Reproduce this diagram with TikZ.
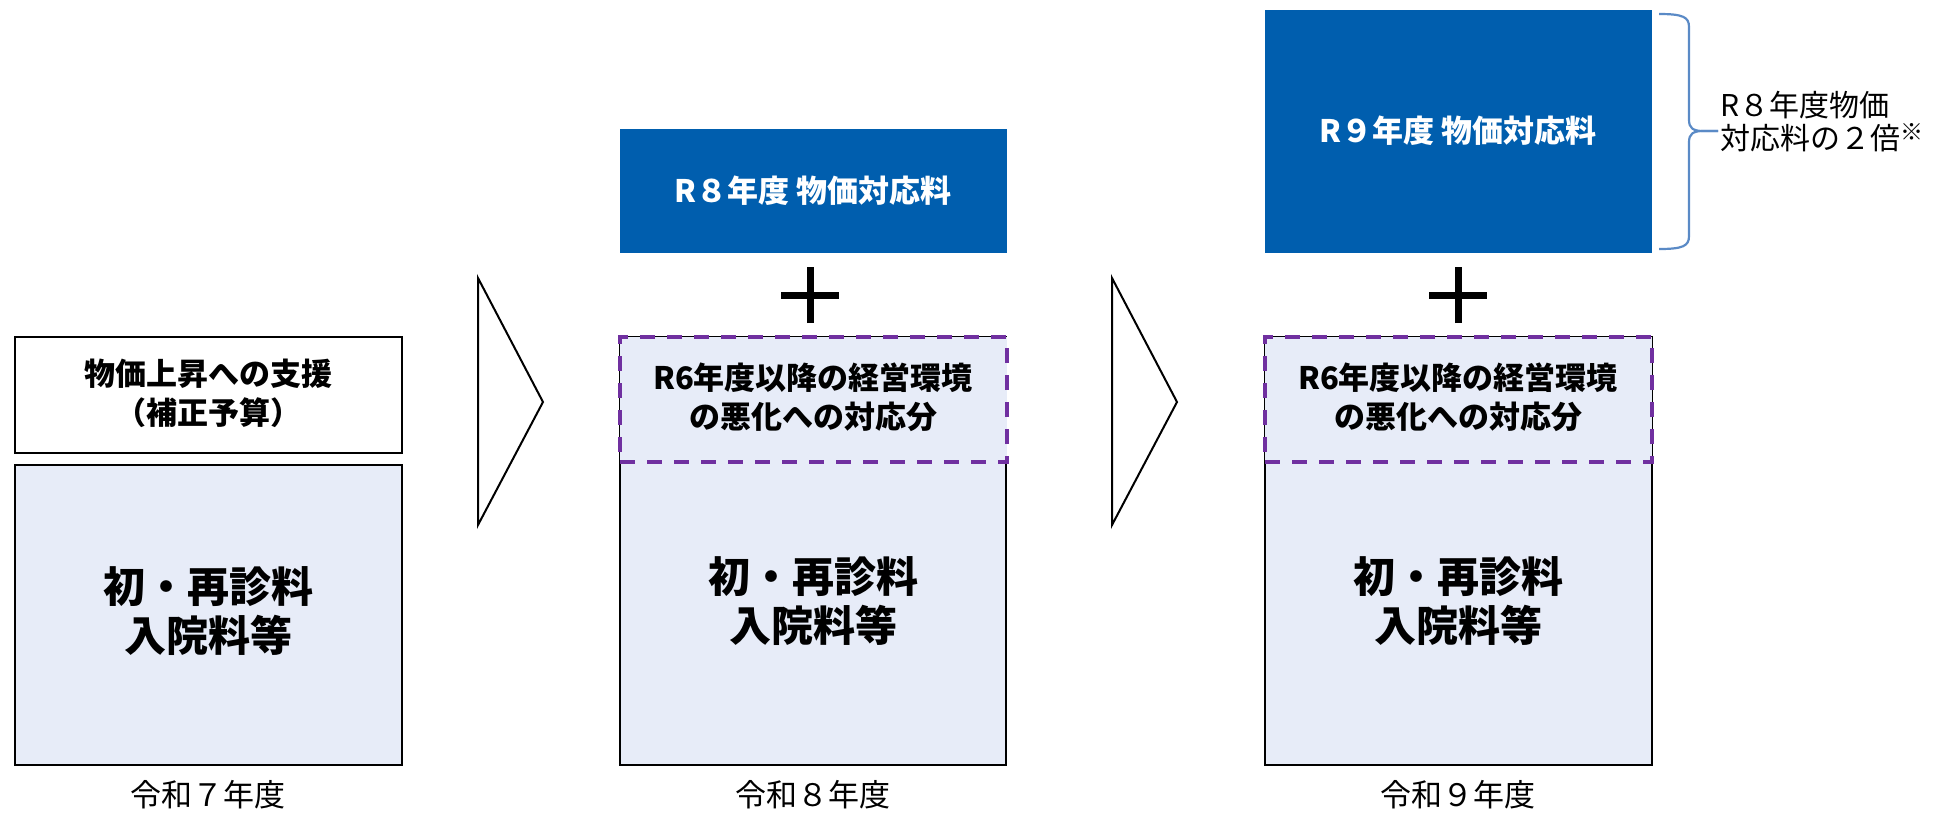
\documentclass[tikz,border=0pt]{standalone}
\usepackage{fontspec}
\setmainfont{Noto Sans CJK JP}
\definecolor{bluefill}{HTML}{005EAE}
\definecolor{lightfill}{HTML}{E7ECF8}
\definecolor{dashpurple}{HTML}{7030A0}
\definecolor{bracecol}{HTML}{5A8AC6}
\tikzset{
  plainbox/.style={draw=black, line width=2pt, fill=white, inner sep=0pt, outer sep=0pt, anchor=north west},
  basebox/.style={draw=black, line width=2pt, fill=lightfill, inner sep=0pt, outer sep=0pt, anchor=north west},
  bluebox/.style={fill=bluefill, inner sep=0pt, outer sep=0pt, anchor=north west},
  dashbox/.style={draw=dashpurple, line width=4pt, dash pattern=on 15pt off 12pt, fill=lightfill, inner sep=0pt, outer sep=0pt, anchor=north west},
  bigtext/.style={font=\fontsize{42}{49}\selectfont\bfseries, align=center},
  midtext/.style={font=\fontsize{31}{39}\selectfont\bfseries, align=center},
  whitetext/.style={font=\fontsize{31}{39}\selectfont\bfseries, text=white, align=center},
  yeartext/.style={font=\fontsize{31}{37}\selectfont, align=center},
  notetext/.style={font=\fontsize{30}{33}\selectfont, align=left, anchor=west, inner sep=0pt},
  chevron/.style={draw=black, line width=2pt, line join=miter},
  plussign/.style={draw=black, line width=7pt},
  bracepath/.style={draw=bracecol, line width=2.2pt}
}
\begin{document}
\begin{tikzpicture}[x=1pt,y=-1pt]
\useasboundingbox (0,0) rectangle (1933,812);
% column 1
\node[plainbox, minimum width=387pt, minimum height=116pt] (c1top) at (15,337) {};
\node[midtext] (c1toptext) at (208,393) {物価上昇への支援\\（補正予算）};
\node[basebox, minimum width=387pt, minimum height=300pt] (c1base) at (15,465) {};
\node[bigtext] (c1basetext) at (208,611) {初・再診料\\入院料等};
\node[yeartext] (c1year) at (208,795) {令和７年度};
% chevron 1
\draw[chevron] (478,278) -- (543,402) -- (478,525) -- cycle;
% column 2
\node[bluebox, minimum width=387pt, minimum height=124pt] (c2blue) at (620,129) {};
\node[whitetext] (c2bluetext) at (813,191) {R８年度 物価対応料};
\coordinate (p2) at (810,295);
\draw[plussign] ([xshift=-29pt]p2) -- ([xshift=29pt]p2);
\draw[plussign] ([yshift=-28pt]p2) -- ([yshift=28pt]p2);
\node[basebox, minimum width=386pt, minimum height=428pt] (c2base) at (620,337) {};
\node[dashbox, minimum width=387pt, minimum height=125pt] (c2dash) at (620,337) {};
\node[midtext] (c2dashtext) at (813,397) {R6年度以降の経営環境\\の悪化への対応分};
\node[bigtext] (c2basetext) at (813,601) {初・再診料\\入院料等};
\node[yeartext] (c2year) at (813,795) {令和８年度};
% chevron 2
\draw[chevron] (1112,278) -- (1177,402) -- (1112,525) -- cycle;
% column 3
\node[bluebox, minimum width=387pt, minimum height=243pt] (c3blue) at (1265,10) {};
\node[whitetext] (c3bluetext) at (1458,131) {R９年度 物価対応料};
\coordinate (p3) at (1458,295);
\draw[plussign] ([xshift=-29pt]p3) -- ([xshift=29pt]p3);
\draw[plussign] ([yshift=-28pt]p3) -- ([yshift=28pt]p3);
\node[basebox, minimum width=387pt, minimum height=428pt] (c3base) at (1265,337) {};
\node[dashbox, minimum width=387pt, minimum height=125pt] (c3dash) at (1265,337) {};
\node[midtext] (c3dashtext) at (1458,397) {R6年度以降の経営環境\\の悪化への対応分};
\node[bigtext] (c3basetext) at (1458,601) {初・再診料\\入院料等};
\node[yeartext] (c3year) at (1458,795) {令和９年度};
% brace
\coordinate (bracetip) at (1718,131);
\draw[bracepath] (1659,14) .. controls (1683,14) and (1689,17) .. (1689,27) -- (1689,120)
  .. controls (1689,128) and (1693,131) .. (1703,131) -- (bracetip);
\draw[bracepath] (bracetip) -- (1703,131)
  .. controls (1693,131) and (1689,134) .. (1689,142) -- (1689,236)
  .. controls (1689,246) and (1683,249) .. (1659,249);
\node[notetext] (note) at (1720,122) {R８年度物価\\対応料の２倍\raisebox{0.32em}{\fontsize{23}{23}\selectfont ※}};
\end{tikzpicture}
\end{document}
